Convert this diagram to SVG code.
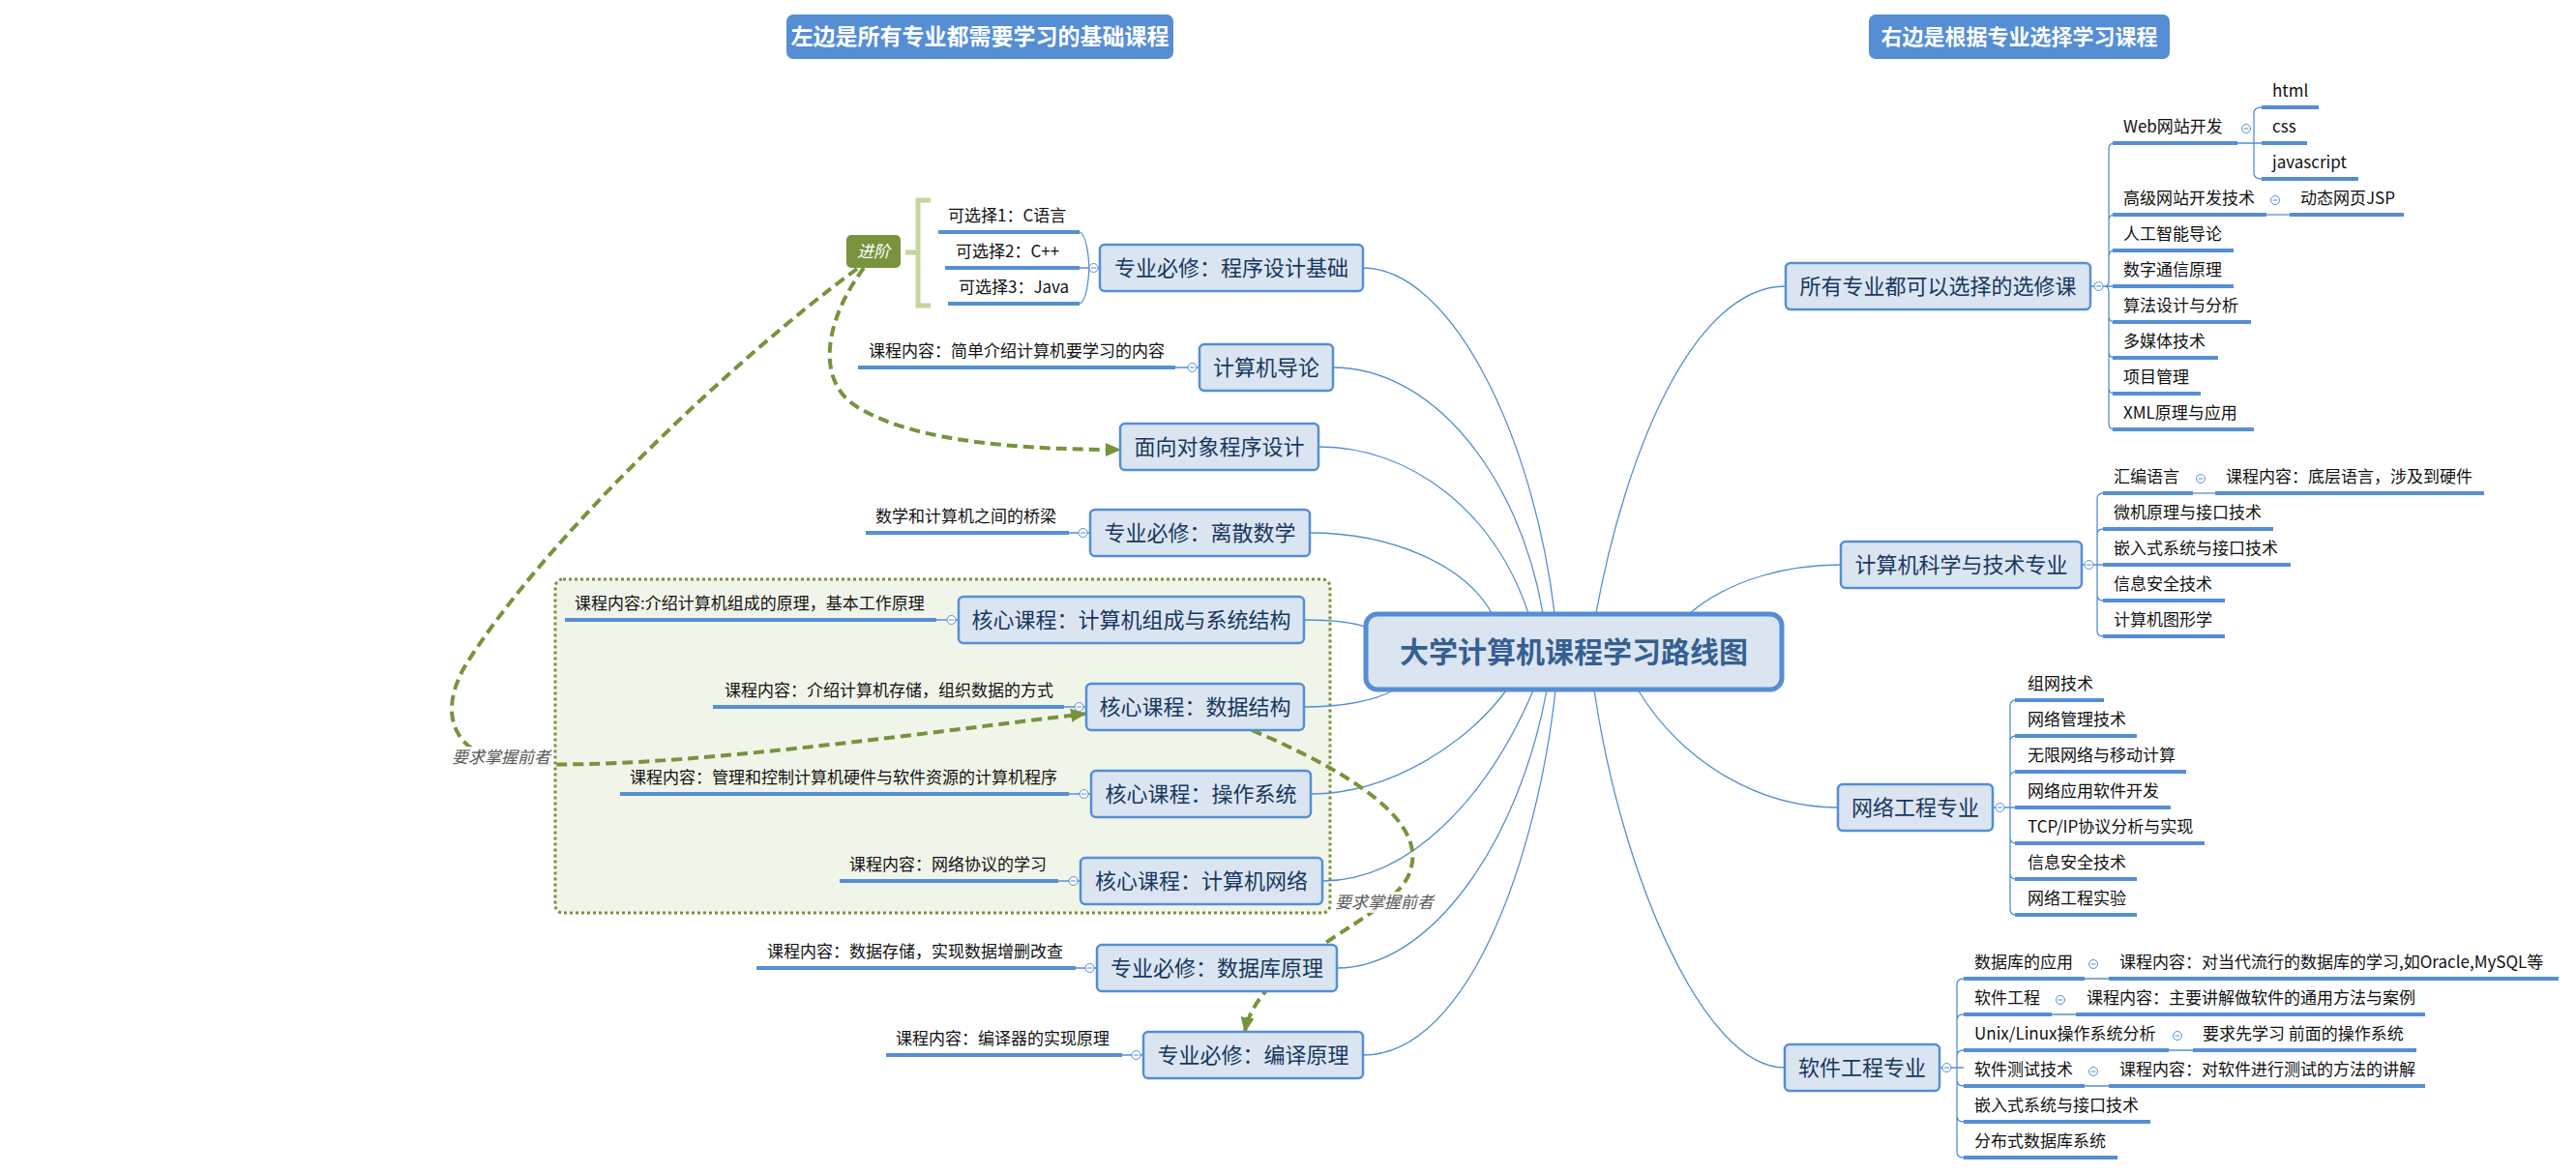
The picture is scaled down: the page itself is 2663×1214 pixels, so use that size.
<svg xmlns="http://www.w3.org/2000/svg" width="2663" height="1214" viewBox="0 0 2663 1214">
<style>
text{font-family:"Noto Sans CJK SC","Noto Sans",sans-serif}
.box{fill:#dbe5f1;stroke:#558ed5;stroke-width:2.5}
.nt{font-size:22px;fill:#17375e;text-anchor:middle}
.st{font-size:17px;fill:#111}
.ul{stroke:#558ed5;stroke-width:4;fill:none}
.cn{fill:none;stroke:#558ed5;stroke-width:1.3}
.cc{fill:#fff;stroke:#558ed5;stroke-width:1}
.mn{stroke:#558ed5;stroke-width:1}
.dash{fill:none;stroke:#77933c;stroke-width:4;stroke-dasharray:11 6}
.lbl{font-size:17px;fill:#595959;font-style:italic}
.ttl{fill:#558ed5}
.tt{fill:#fff;font-weight:bold;text-anchor:middle}
</style>
<defs>
<marker id="arr" markerUnits="userSpaceOnUse" markerWidth="16" markerHeight="14" refX="15" refY="7" orient="auto">
<path d="M0,0 L16,7 L0,14 z" fill="#77933c"/>
</marker>
</defs>
<rect width="2663" height="1214" fill="#fff"/>

<g id="title-left"><rect class="ttl" x="813" y="15" width="400" height="46" rx="7"/><text class="tt" x="1013" y="46" font-size="23">左边是所有专业都需要学习的基础课程</text></g>
<g id="title-right"><rect class="ttl" x="1932" y="15" width="311" height="46" rx="7"/><text class="tt" x="2087.5" y="46" font-size="22">右边是根据专业选择学习课程</text></g>

<g id="core-group"><rect x="574" y="599" width="801" height="345" rx="8" fill="#f1f5e9" stroke="#77933c" stroke-width="3" stroke-dasharray="3 3"/></g>

<g id="connectors">
<path class="cn" d="M1409,277 C1500,277 1585,450 1607,634"/>
<path class="cn" d="M1378,380 C1480,380 1570,490 1595,634"/>
<path class="cn" d="M1363,462 C1460,462 1545,530 1580,634"/>
<path class="cn" d="M1354,551 C1440,551 1515,585 1542,634"/>
<path class="cn" d="M1348,641 C1375,641 1398,643 1414,649"/>
<path class="cn" d="M1348,731 C1390,731 1422,724 1440,714"/>
<path class="cn" d="M1355,821 C1440,821 1520,765 1557,714"/>
<path class="cn" d="M1367,911 C1460,911 1540,820 1585,714"/>
<path class="cn" d="M1382,1001 C1480,1001 1570,870 1599,714"/>
<path class="cn" d="M1409,1091 C1520,1091 1590,880 1608,714"/>
<path class="cn" d="M1650,634 C1680,470 1750,296 1846,296"/>
<path class="cn" d="M1747,634 C1790,598 1850,584 1903,584"/>
<path class="cn" d="M1693,713 C1740,790 1820,835 1900,835"/>
<path class="cn" d="M1648,713 C1675,900 1760,1104 1845,1104"/>
<!-- left sub connectors -->
<path class="cn" d="M1116,240 C1123,242 1125,260 1126,277 M1116,314 C1123,312 1125,294 1126,277 M1116,277 H1126 M1135,277 H1137"/>
<path class="cn" d="M1215,380 H1228 M1237,380 H1240"/>
<path class="cn" d="M1105,551 H1115 M1124,551 H1127"/>
<path class="cn" d="M968,641 H979 M988,641 H991"/>
<path class="cn" d="M1100,731 H1111 M1120,731 H1123"/>
<path class="cn" d="M1105,821 H1116 M1125,821 H1128"/>
<path class="cn" d="M1094,911 H1105 M1114,911 H1117"/>
<path class="cn" d="M1112,1001 H1122 M1131,1001 H1134"/>
<path class="cn" d="M1160,1091 H1170 M1179,1091 H1182"/>
<!-- R1 sub connectors -->
<path class="cn" d="M2161,296 H2165 M2174,296 H2184 M2176,296 Q2180,296 2180,290 V154 Q2180,148 2186,148 M2180,228 Q2180,222 2186,222 M2180,265 Q2180,259 2186,259 M2176,296 Q2180,296 2180,302 V438 Q2180,444 2186,444 M2180,327 Q2180,333 2186,333 M2180,364 Q2180,370 2186,370 M2180,401 Q2180,407 2186,407"/>
<path class="cn" d="M2313,148 H2338 M2330,148 V117 Q2330,111 2338,111 M2330,148 V179 Q2330,185 2338,185"/>
<path class="cn" d="M2343,222 H2367"/>
<!-- R2 -->
<path class="cn" d="M2152,584 H2155 M2164,584 H2174 M2168,584 V516 Q2168,510 2174,510 M2168,553 Q2168,547 2174,547 M2168,584 V652 Q2168,658 2174,658 M2168,615 Q2168,621 2174,621"/>
<path class="cn" d="M2267,510 H2290"/>
<!-- R3 -->
<path class="cn" d="M2060,835 H2063 M2072,835 H2083 M2078,835 V730 Q2078,724 2084,724 M2078,767 Q2078,761 2084,761 M2078,804 Q2078,798 2084,798 M2078,835 V940 Q2078,946 2084,946 M2078,866 Q2078,872 2084,872 M2078,903 Q2078,909 2084,909"/>
<!-- R4 -->
<path class="cn" d="M2005,1104 H2008 M2017,1104 H2030 M2023,1104 V1018 Q2023,1012 2030,1012 M2023,1055 Q2023,1049 2030,1049 M2023,1092 Q2023,1086 2030,1086 M2023,1104 V1191 Q2023,1197 2030,1197 M2023,1117 Q2023,1123 2030,1123 M2023,1154 Q2023,1160 2030,1160"/>
<path class="cn" d="M2155,1012 H2180 M2121,1049 H2146 M2242,1086 H2267 M2155,1123 H2180"/>
<!-- dashed relations -->
<path class="dash" d="M893,277 C850,335 845,395 885,420 C935,452 1030,465 1158,465" marker-end="url(#arr)"/>
<path class="dash" d="M886,278 C760,370 560,560 480,690 C455,735 465,775 520,788 C650,800 900,765 1122,738" marker-end="url(#arr)"/>
<path class="dash" d="M1294,755 C1400,800 1475,850 1458,900 C1445,950 1300,990 1287,1067" marker-end="url(#arr)"/>
</g>

<g id="rel-labels">
<rect x="466" y="772" width="104" height="22" fill="#fff" opacity="0.85"/>
<text class="lbl" x="467" y="789">要求掌握前者</text>
<rect x="1379" y="922" width="104" height="22" fill="#fff" opacity="0.85"/>
<text class="lbl" x="1380" y="939">要求掌握前者</text>
</g>

<g id="collapse-markers">
<circle class="cc" cx="1130.5" cy="277" r="4.5"/><path class="mn" d="M1128,277 H1133"/>
<circle class="cc" cx="1232.5" cy="380" r="4.5"/><path class="mn" d="M1230,380 H1235"/>
<circle class="cc" cx="1119.5" cy="551" r="4.5"/><path class="mn" d="M1117,551 H1122"/>
<circle class="cc" cx="983.5" cy="641" r="4.5"/><path class="mn" d="M981,641 H986"/>
<circle class="cc" cx="1115.5" cy="731" r="4.5"/><path class="mn" d="M1113,731 H1118"/>
<circle class="cc" cx="1120.5" cy="821" r="4.5"/><path class="mn" d="M1118,821 H1123"/>
<circle class="cc" cx="1109.5" cy="911" r="4.5"/><path class="mn" d="M1107,911 H1112"/>
<circle class="cc" cx="1126.5" cy="1001" r="4.5"/><path class="mn" d="M1124,1001 H1129"/>
<circle class="cc" cx="1174.5" cy="1091" r="4.5"/><path class="mn" d="M1172,1091 H1177"/>
<circle class="cc" cx="2169.5" cy="296" r="4.5"/><path class="mn" d="M2167,296 H2172"/>
<circle class="cc" cx="2322" cy="133" r="4.5"/><path class="mn" d="M2319.5,133 H2324.5"/>
<circle class="cc" cx="2352" cy="207" r="4.5"/><path class="mn" d="M2349.5,207 H2354.5"/>
<circle class="cc" cx="2159.5" cy="584" r="4.5"/><path class="mn" d="M2157,584 H2162"/>
<circle class="cc" cx="2275" cy="495" r="4.5"/><path class="mn" d="M2272.5,495 H2277.5"/>
<circle class="cc" cx="2067.5" cy="835" r="4.5"/><path class="mn" d="M2065,835 H2070"/>
<circle class="cc" cx="2012.5" cy="1104" r="4.5"/><path class="mn" d="M2010,1104 H2015"/>
<circle class="cc" cx="2164" cy="997" r="4.5"/><path class="mn" d="M2161.5,997 H2166.5"/>
<circle class="cc" cx="2130" cy="1034" r="4.5"/><path class="mn" d="M2127.5,1034 H2132.5"/>
<circle class="cc" cx="2251" cy="1071" r="4.5"/><path class="mn" d="M2248.5,1071 H2253.5"/>
<circle class="cc" cx="2164" cy="1108" r="4.5"/><path class="mn" d="M2161.5,1108 H2166.5"/>
</g>

<g id="center"><rect x="1412" y="635" width="430" height="78" rx="12" fill="#dbe5f1" stroke="#558ed5" stroke-width="5"/><text x="1627" y="685" font-size="30" font-weight="bold" fill="#365f91" text-anchor="middle">大学计算机课程学习路线图</text></g>

<g id="n-prog"><rect class="box" x="1137" y="253" width="272" height="48" rx="5"/><text class="nt" x="1273" y="285">专业必修：程序设计基础</text></g>
<g id="n-prog-opt1"><path class="ul" d="M970,240 H1116"/><text class="st" x="980" y="229">可选择1：C语言</text></g>
<g id="n-prog-opt2"><path class="ul" d="M977,277 H1116"/><text class="st" x="988" y="266">可选择2：C++</text></g>
<g id="n-prog-opt3"><path class="ul" d="M980,314 H1116"/><text class="st" x="991" y="303">可选择3：Java</text></g>
<g id="n-bracket"><path d="M962,207 H949 V316 H962 M936,261 H949" fill="none" stroke="#c3d69b" stroke-width="5"/></g>
<g id="n-advanced"><rect x="875" y="243" width="56" height="34" rx="5" fill="#77933c"/><text x="903" y="266" font-size="17" font-style="italic" fill="#fff" text-anchor="middle">进阶</text></g>

<g id="n-intro"><rect class="box" x="1240" y="356" width="138" height="48" rx="5"/><text class="nt" x="1309" y="388">计算机导论</text></g>
<g id="n-intro-c"><path class="ul" d="M887,380 H1215"/><text class="st" x="898" y="369">课程内容：简单介绍计算机要学习的内容</text></g>

<g id="n-oop"><rect class="box" x="1158" y="438" width="205" height="48" rx="5"/><text class="nt" x="1260.5" y="470">面向对象程序设计</text></g>

<g id="n-discrete"><rect class="box" x="1127" y="527" width="227" height="48" rx="5"/><text class="nt" x="1240.5" y="559">专业必修：离散数学</text></g>
<g id="n-discrete-c"><path class="ul" d="M895,551 H1105"/><text class="st" x="905" y="540">数学和计算机之间的桥梁</text></g>

<g id="n-arch"><rect class="box" x="991" y="617" width="357" height="48" rx="5"/><text class="nt" x="1169.5" y="649">核心课程：计算机组成与系统结构</text></g>
<g id="n-arch-c"><path class="ul" d="M584,641 H968"/><text class="st" x="594" y="630">课程内容:介绍计算机组成的原理，基本工作原理</text></g>

<g id="n-ds"><rect class="box" x="1123" y="707" width="225" height="48" rx="5"/><text class="nt" x="1235.5" y="739">核心课程：数据结构</text></g>
<g id="n-ds-c"><path class="ul" d="M737,731 H1100"/><text class="st" x="749" y="720">课程内容：介绍计算机存储，组织数据的方式</text></g>

<g id="n-os"><rect class="box" x="1128" y="797" width="227" height="48" rx="5"/><text class="nt" x="1241.5" y="829">核心课程：操作系统</text></g>
<g id="n-os-c"><path class="ul" d="M641,821 H1105"/><text class="st" x="651" y="810">课程内容：管理和控制计算机硬件与软件资源的计算机程序</text></g>

<g id="n-net"><rect class="box" x="1117" y="887" width="250" height="48" rx="5"/><text class="nt" x="1242" y="919">核心课程：计算机网络</text></g>
<g id="n-net-c"><path class="ul" d="M868,911 H1094"/><text class="st" x="878" y="900">课程内容：网络协议的学习</text></g>

<g id="n-db"><rect class="box" x="1134" y="977" width="248" height="48" rx="5"/><text class="nt" x="1258" y="1009">专业必修：数据库原理</text></g>
<g id="n-db-c"><path class="ul" d="M782,1001 H1112"/><text class="st" x="793" y="990">课程内容：数据存储，实现数据增删改查</text></g>

<g id="n-compiler"><rect class="box" x="1182" y="1067" width="227" height="48" rx="5"/><text class="nt" x="1295.5" y="1099">专业必修：编译原理</text></g>
<g id="n-compiler-c"><path class="ul" d="M916,1091 H1160"/><text class="st" x="926" y="1080">课程内容：编译器的实现原理</text></g>

<g id="n-elective"><rect class="box" x="1846" y="272" width="315" height="48" rx="5"/><text class="nt" x="2003.5" y="304">所有专业都可以选择的选修课</text></g>
<g id="n-e1"><path class="ul" d="M2184,148 H2313"/><text class="st" x="2195" y="137">Web网站开发</text></g>
<g id="n-e1a"><path class="ul" d="M2338,111 H2397"/><text class="st" x="2349" y="100">html</text></g>
<g id="n-e1b"><path class="ul" d="M2338,148 H2385"/><text class="st" x="2349" y="137">css</text></g>
<g id="n-e1c"><path class="ul" d="M2338,185 H2438"/><text class="st" x="2349" y="174">javascript</text></g>
<g id="n-e2"><path class="ul" d="M2184,222 H2343"/><text class="st" x="2195" y="211">高级网站开发技术</text></g>
<g id="n-e2a"><path class="ul" d="M2367,222 H2485"/><text class="st" x="2378" y="211">动态网页JSP</text></g>
<g id="n-e3"><path class="ul" d="M2184,259 H2309"/><text class="st" x="2195" y="248">人工智能导论</text></g>
<g id="n-e4"><path class="ul" d="M2184,296 H2309"/><text class="st" x="2195" y="285">数字通信原理</text></g>
<g id="n-e5"><path class="ul" d="M2184,333 H2327"/><text class="st" x="2195" y="322">算法设计与分析</text></g>
<g id="n-e6"><path class="ul" d="M2184,370 H2293"/><text class="st" x="2195" y="359">多媒体技术</text></g>
<g id="n-e7"><path class="ul" d="M2184,407 H2275"/><text class="st" x="2195" y="396">项目管理</text></g>
<g id="n-e8"><path class="ul" d="M2184,444 H2330"/><text class="st" x="2195" y="433">XML原理与应用</text></g>

<g id="n-cs"><rect class="box" x="1903" y="560" width="249" height="48" rx="5"/><text class="nt" x="2027.5" y="592">计算机科学与技术专业</text></g>
<g id="n-cs1"><path class="ul" d="M2174,510 H2267"/><text class="st" x="2185" y="499">汇编语言</text></g>
<g id="n-cs1a"><path class="ul" d="M2290,510 H2568"/><text class="st" x="2301" y="499">课程内容：底层语言，涉及到硬件</text></g>
<g id="n-cs2"><path class="ul" d="M2174,547 H2350"/><text class="st" x="2185" y="536">微机原理与接口技术</text></g>
<g id="n-cs3"><path class="ul" d="M2174,584 H2368"/><text class="st" x="2185" y="573">嵌入式系统与接口技术</text></g>
<g id="n-cs4"><path class="ul" d="M2174,621 H2300"/><text class="st" x="2185" y="610">信息安全技术</text></g>
<g id="n-cs5"><path class="ul" d="M2174,658 H2300"/><text class="st" x="2185" y="647">计算机图形学</text></g>

<g id="n-ne"><rect class="box" x="1900" y="811" width="160" height="48" rx="5"/><text class="nt" x="1980" y="843">网络工程专业</text></g>
<g id="n-ne1"><path class="ul" d="M2083,724 H2175"/><text class="st" x="2096" y="713">组网技术</text></g>
<g id="n-ne2"><path class="ul" d="M2083,761 H2209"/><text class="st" x="2096" y="750">网络管理技术</text></g>
<g id="n-ne3"><path class="ul" d="M2083,798 H2260"/><text class="st" x="2096" y="787">无限网络与移动计算</text></g>
<g id="n-ne4"><path class="ul" d="M2083,835 H2244"/><text class="st" x="2096" y="824">网络应用软件开发</text></g>
<g id="n-ne5"><path class="ul" d="M2083,872 H2279"/><text class="st" x="2096" y="861">TCP/IP协议分析与实现</text></g>
<g id="n-ne6"><path class="ul" d="M2083,909 H2209"/><text class="st" x="2096" y="898">信息安全技术</text></g>
<g id="n-ne7"><path class="ul" d="M2083,946 H2209"/><text class="st" x="2096" y="935">网络工程实验</text></g>

<g id="n-se"><rect class="box" x="1845" y="1080" width="160" height="48" rx="5"/><text class="nt" x="1925" y="1112">软件工程专业</text></g>
<g id="n-se1"><path class="ul" d="M2030,1012 H2155"/><text class="st" x="2041" y="1001">数据库的应用</text></g>
<g id="n-se1a"><path class="ul" d="M2180,1012 H2645"/><text class="st" x="2191" y="1001">课程内容：对当代流行的数据库的学习,如Oracle,MySQL等</text></g>
<g id="n-se2"><path class="ul" d="M2030,1049 H2121"/><text class="st" x="2041" y="1038">软件工程</text></g>
<g id="n-se2a"><path class="ul" d="M2146,1049 H2507"/><text class="st" x="2157" y="1038">课程内容：主要讲解做软件的通用方法与案例</text></g>
<g id="n-se3"><path class="ul" d="M2030,1086 H2242"/><text class="st" x="2041" y="1075">Unix/Linux操作系统分析</text></g>
<g id="n-se3a"><path class="ul" d="M2267,1086 H2498"/><text class="st" x="2277" y="1075">要求先学习 前面的操作系统</text></g>
<g id="n-se4"><path class="ul" d="M2030,1123 H2155"/><text class="st" x="2041" y="1112">软件测试技术</text></g>
<g id="n-se4a"><path class="ul" d="M2180,1123 H2507"/><text class="st" x="2191" y="1112">课程内容：对软件进行测试的方法的讲解</text></g>
<g id="n-se5"><path class="ul" d="M2030,1160 H2223"/><text class="st" x="2041" y="1149">嵌入式系统与接口技术</text></g>
<g id="n-se6"><path class="ul" d="M2030,1197 H2189"/><text class="st" x="2041" y="1186">分布式数据库系统</text></g>
</svg>
